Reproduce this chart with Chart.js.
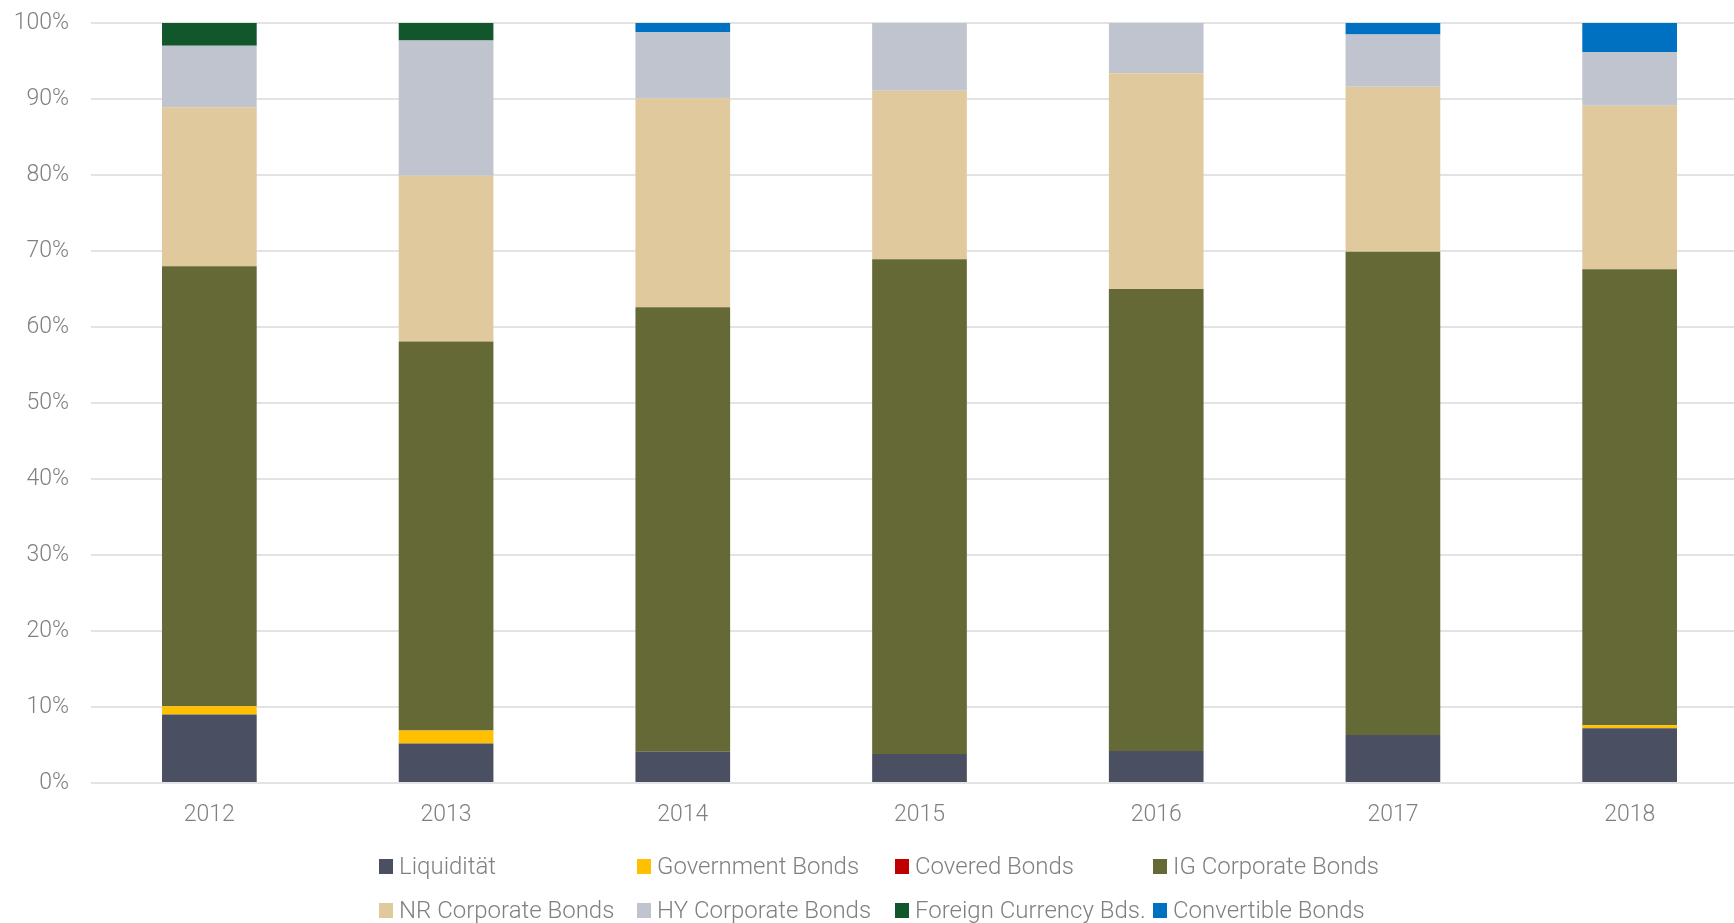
<!DOCTYPE html>
<html>
<head>
<meta charset="utf-8">
<script src="https://cdn.jsdelivr.net/npm/chart.js@4/dist/chart.umd.min.js"></script>
<style>
  html, body { margin: 0; padding: 0; background: #fff; overflow: hidden; }
  #wrap { position: relative; width: 1734px; height: 923px; overflow: hidden; }
  #legend {
    position: absolute; left: 379px; top: 849px;
    display: grid; grid-template-columns: repeat(4, 258px); row-gap: 10px;
    font-family: Roboto, sans-serif; font-weight: 300; font-size: 24px; color: #808080;
  }
  .item { display: flex; align-items: center; white-space: nowrap; height: 34px; }
  .box { width: 14px; height: 15px; margin-right: 6px; flex: none; }
</style>
</head>
<body>
<div id="wrap">
  <canvas id="chart" width="1748" height="923"></canvas>
  <div id="legend"></div>
</div>
<script>
const years = ['2012', '2013', '2014', '2015', '2016', '2017', '2018'];
const seriesNames = ['Liquidität', 'Government Bonds', 'Covered Bonds', 'IG Corporate Bonds',
  'NR Corporate Bonds', 'HY Corporate Bonds', 'Foreign Currency Bds.', 'Convertible Bonds'];
const seriesColors = ['#4a5061', '#ffc000', '#c00000', '#646936',
  '#e0c99c', '#bfc4ce', '#12572b', '#0070c0'];

const liquiditaet = [9.0, 5.2, 4.1, 3.8, 4.2, 6.3, 7.2];
const governmentBonds = [1.1, 1.7, 0, 0, 0, 0, 0.4];
const coveredBonds = [0, 0, 0, 0, 0, 0, 0];
const igCorporate = [57.9, 51.2, 58.5, 65.1, 60.8, 63.6, 60.0];
const nrCorporate = [20.9, 21.8, 27.5, 22.2, 28.4, 21.7, 21.5];
const hyCorporate = [8.1, 17.8, 8.7, 8.9, 6.6, 6.9, 7.1];
const foreignCurrency = [3.0, 2.3, 0, 0, 0, 0, 0];
const convertibleBonds = [0, 0, 1.2, 0, 0, 1.5, 3.8];

const seriesValues = [liquiditaet, governmentBonds, coveredBonds, igCorporate,
  nrCorporate, hyCorporate, foreignCurrency, convertibleBonds];

const yTicks = [0, 10, 20, 30, 40, 50, 60, 70, 80, 90, 100];

const font = { family: 'Roboto, sans-serif', weight: 300, size: 23 };

new Chart(document.getElementById('chart'), {
  type: 'bar',
  data: {
    labels: years,
    datasets: seriesNames.map((name, i) => ({
      label: name,
      data: seriesValues[i],
      backgroundColor: seriesColors[i],
      borderWidth: 0,
      categoryPercentage: 1,
      barPercentage: 0.4
    }))
  },
  options: {
    responsive: false,
    animation: false,
    layout: { padding: { top: 23, bottom: 80, right: 0, left: 0 } },
    plugins: { legend: { display: false }, tooltip: { enabled: false } },
    scales: {
      x: {
        stacked: true,
        grid: { display: false, drawTicks: false },
        border: { display: false },
        ticks: { color: '#808080', font: font, padding: 18 },
        afterFit: s => { s.height = 60; s.paddingLeft = 0; s.paddingRight = 0; }
      },
      y: {
        stacked: true,
        min: 0,
        max: 100,
        afterBuildTicks: s => { s.ticks = yTicks.map(v => ({ value: v })); },
        grid: { color: '#e3e3e3', lineWidth: 2, drawTicks: false },
        border: { display: false },
        ticks: { color: '#808080', font: font, padding: 22, callback: v => v + '%' },
        afterFit: s => { s.width = 91; s.paddingTop = 0; s.paddingBottom = 0; }
      }
    }
  }
});

const legend = document.getElementById('legend');
seriesNames.forEach((name, i) => {
  const item = document.createElement('div');
  item.className = 'item';
  const box = document.createElement('span');
  box.className = 'box';
  box.style.background = seriesColors[i];
  const txt = document.createElement('span');
  txt.textContent = name;
  item.appendChild(box);
  item.appendChild(txt);
  legend.appendChild(item);
});
</script>
</body>
</html>
